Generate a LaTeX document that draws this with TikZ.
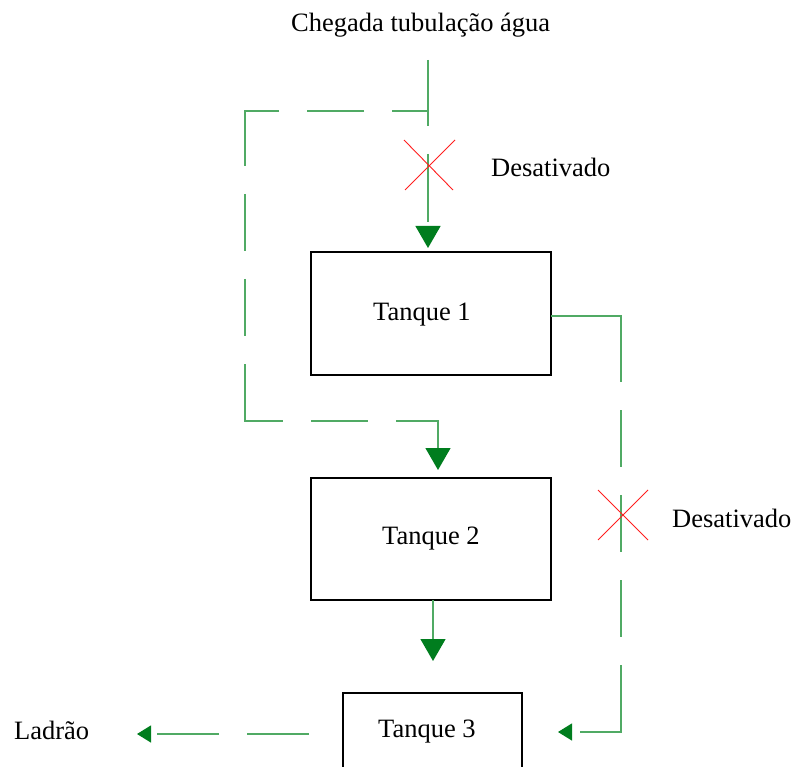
\documentclass[tikz,border=0pt]{standalone}
\usepackage{fontspec}
\setmainfont{Liberation Serif}
\usetikzlibrary{arrows.meta}
\definecolor{pipecol}{RGB}{80,170,100}
\definecolor{headcol}{RGB}{0,125,30}
\definecolor{xcol}{RGB}{255,30,30}
\tikzset{
  pipe/.style={draw=pipecol, line width=1.3pt},
  downtip/.style={-{Triangle[length=22pt,width=25pt,color=headcol,fill=headcol]}},
  lefttip/.style={-{Triangle[length=14pt,width=17pt,color=headcol,fill=headcol]}},
  tank/.style={draw=black, line width=1.2pt, fill=white, inner sep=0pt},
  lbl/.style={font=\fontsize{26.5pt}{30pt}\selectfont, inner sep=0pt, anchor=base west},
  xmark/.style={draw=xcol, line width=0.9pt}
}
\begin{document}
\begin{tikzpicture}[x=1pt,y=-1pt]
\useasboundingbox (0,0) rectangle (795,767);
\clip (0,0) rectangle (795,767);
% tanks
\node[tank, minimum width=240pt, minimum height=123pt] (t1) at (431,313.5) {};
\node[tank, minimum width=240pt, minimum height=122pt] (t2) at (431,539) {};
\node[tank, minimum width=179pt, minimum height=120pt] (t3) at (432.5,753) {};
% labels
\node[lbl] (l1) at (373,320) {Tanque 1};
\node[lbl] (l2) at (382,544) {Tanque 2};
\node[lbl] (l3) at (378,737) {Tanque 3};
\node[lbl] (src) at (291,32) {Chegada tubulação água};
\node[lbl] (d1) at (491,177) {Desativado};
\node[lbl] (d2) at (672,527) {Desativado};
\node[lbl] (lad) at (14,739) {Ladrão};
% coordinates
\coordinate (p0) at (428,60);
\coordinate (br) at (428,111);
\coordinate (in1) at (428,248);
\coordinate (lc1) at (245,111);
\coordinate (lc2) at (245,421);
\coordinate (lc3) at (438,421);
\coordinate (in2) at (438,470);
\coordinate (r0) at (551,316);
\coordinate (rc1) at (621,316);
\coordinate (rc2) at (621,732);
\coordinate (in3r) at (558,732);
\coordinate (o2) at (433,600);
\coordinate (in3) at (433,661);
\coordinate (o3) at (343,734);
\coordinate (ladin) at (137,734);
% main supply
\draw[pipe, dash pattern=on 66pt off 28pt on 68pt off 50pt, downtip] (p0) -- (in1);
% left bypass
\draw[pipe, dash pattern=on 36pt off 28pt on 57pt off 28pt on 89pt off 28pt on 57pt off 28pt on 57pt off 28pt on 95pt off 28pt on 57pt off 28pt on 200pt, downtip]
  (br) -- (lc1) -- (lc2) -- (lc3) -- (in2);
% right bypass
\draw[pipe, dash pattern=on 136pt off 28pt on 57pt off 28pt on 57pt off 28pt on 57pt off 28pt on 108pt off 50pt, lefttip]
  (r0) -- (rc1) -- (rc2) -- (in3r);
% tank 2 to tank 3
\draw[pipe, downtip] (o2) -- (in3);
% overflow
\draw[pipe, dash pattern=on 0pt off 34pt on 62pt off 28pt on 62pt off 50pt, lefttip] (o3) -- (ladin);
% X marks
\coordinate (xa1) at (404,140); \coordinate (xa2) at (453,190);
\coordinate (xa3) at (455,140); \coordinate (xa4) at (405,190);
\draw[xmark] (xa1) -- (xa2);
\draw[xmark] (xa3) -- (xa4);
\coordinate (xb1) at (598,490); \coordinate (xb2) at (648,540);
\coordinate (xb3) at (648,490); \coordinate (xb4) at (598,540);
\draw[xmark] (xb1) -- (xb2);
\draw[xmark] (xb3) -- (xb4);
\end{tikzpicture}
\end{document}
